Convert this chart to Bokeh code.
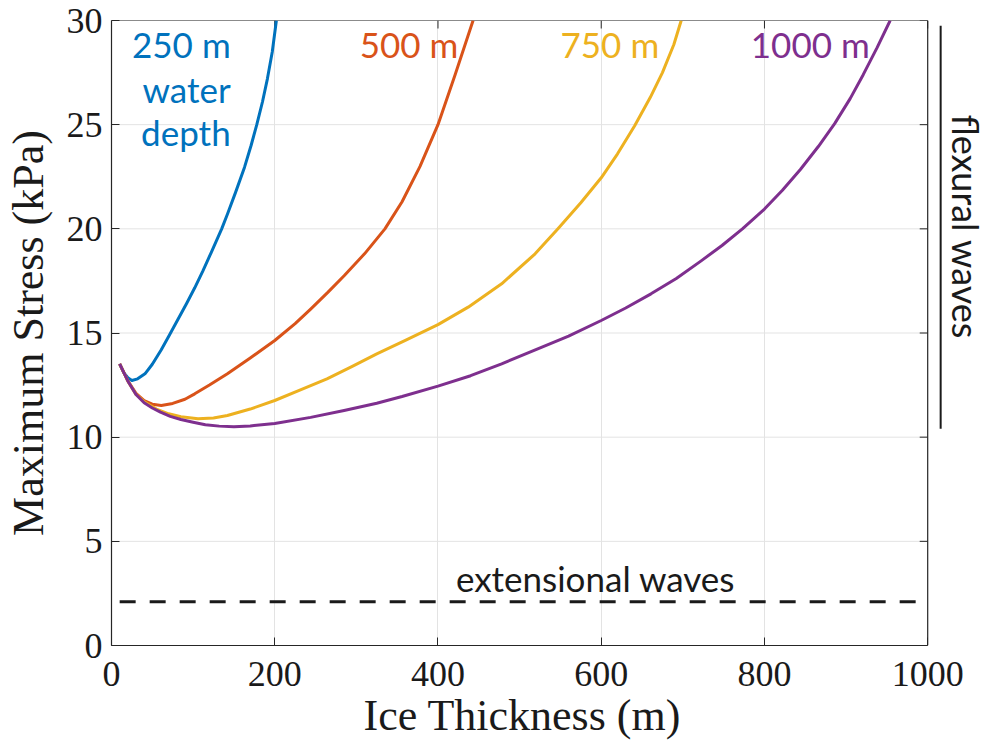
import math
from bokeh.plotting import figure
from bokeh.models import Range1d, FixedTicker, ColumnDataSource, Title
from bokeh.core.properties import value
from bokeh.embed import file_html
from bokeh.resources import INLINE

# ---------------- data ----------------
x_250 = [10, 15, 20, 25, 32, 41, 50, 61, 71, 81, 92, 102, 112, 122, 135, 142, 152, 163, 171, 178, 185, 191, 197, 202]
y_250 = [13.52, 13.1, 12.85, 12.72, 12.8, 13.04, 13.5, 14.2, 14.9, 15.62, 16.42, 17.17, 17.98, 18.85,
         20.0, 20.7, 21.75, 22.96, 24.0, 25.0, 26.1, 27.2, 28.5, 30.0]

x_500 = [10, 20, 30, 40, 50, 61, 75, 90, 102, 120, 142, 170, 200, 225, 244, 265, 285, 310, 335, 356,
         378, 400, 421, 443]
y_500 = [13.52, 12.7, 12.1, 11.75, 11.58, 11.52, 11.62, 11.82, 12.08, 12.5, 13.04, 13.8, 14.64, 15.45,
         16.15, 16.95, 17.75, 18.8, 20.0, 21.3, 23.0, 25.0, 27.4, 30.0]

x_750 = [10, 20, 30, 40, 55, 70, 85, 106, 125, 142, 170, 200, 230, 264, 295, 325, 360, 400, 437, 478,
         519, 547, 575, 600, 620, 641, 660, 675, 689, 698]
y_750 = [13.52, 12.7, 12.05, 11.7, 11.35, 11.12, 10.98, 10.88, 10.92, 11.04, 11.35, 11.76, 12.25, 12.8,
         13.4, 14.0, 14.65, 15.4, 16.24, 17.36, 18.8, 20.0, 21.25, 22.45, 23.6, 24.95, 26.3, 27.5, 28.85, 30.0]

x_1000 = [10, 20, 30, 40, 50, 60, 72, 85, 100, 115, 132, 150, 170, 200, 244, 285, 325, 356, 400, 440,
          478, 520, 560, 600, 630, 661, 692, 722, 748, 773, 800, 822, 844, 866, 886, 905, 921, 938, 954]
y_1000 = [13.52, 12.7, 12.05, 11.65, 11.4, 11.2, 11.0, 10.85, 10.72, 10.6, 10.53, 10.5, 10.54, 10.66,
          10.95, 11.28, 11.63, 11.95, 12.45, 12.95, 13.52, 14.2, 14.85, 15.6, 16.2, 16.88, 17.62, 18.45,
          19.2, 20.0, 20.95, 21.85, 22.85, 23.95, 25.05, 26.25, 27.4, 28.7, 30.0]

ext_x = [10, 1000]
ext_y = [2.1, 2.1]

depth_labels = ["250 m", "500 m", "750 m", "1000 m"]
label_x = [146, 425, 671, 929]
label_y = [28.85, 28.85, 28.85, 28.85]

x_ticks = [0, 200, 400, 600, 800, 1000]
y_ticks = [0, 5, 10, 15, 20, 25, 30]

colors = ["#0072BD", "#D95319", "#EDB120", "#7E2F8E"]
AX = "#262626"
GRID = "#e3e3e3"
SERIF = "Liberation Serif"
SANS = "Lato"

# ---------------- layout geometry ----------------
X0, X1, Y0, Y1 = 0, 1000, 0, 30
W, H = 985, 745
LEFT, TOP, BOTTOM = 108, 20, 100
BOX_W = 819                       # pixel width of the axes box (0..1000)
FRAME_W = W - LEFT                # frame runs to the right edge, room for the side note
X_END = X1 * FRAME_W / BOX_W
px_x = (X1 - X0) / BOX_W          # data units per pixel, x
px_y = (Y1 - Y0) / (H - TOP - BOTTOM)

p = figure(width=W, height=H, output_backend="svg", toolbar_location=None,
           x_range=Range1d(X0, X_END), y_range=Range1d(Y0, Y1),
           min_border_left=LEFT, min_border_right=0, min_border_top=TOP, min_border_bottom=BOTTOM)
p.outline_line_color = None

for ax in (p.xaxis[0], p.yaxis[0]):
    ax.axis_line_color = AX
    ax.axis_line_width = 1.2
    ax.major_tick_line_color = AX
    ax.major_tick_in = 8
    ax.major_tick_out = 0
    ax.minor_tick_line_color = None
    ax.major_label_text_font = SERIF
    ax.major_label_text_font_size = "36px"
    ax.major_label_text_color = "#1a1a1a"
    ax.axis_label_text_font = SERIF
    ax.axis_label_text_font_size = "44px"
    ax.axis_label_text_font_style = "normal"
    ax.axis_label_text_color = "#1a1a1a"

p.xaxis[0].ticker = FixedTicker(ticks=x_ticks)
p.xaxis[0].bounds = (X0, X1)
p.yaxis[0].ticker = FixedTicker(ticks=y_ticks)
p.yaxis[0].axis_label = "Maximum Stress (kPa)"
p.xaxis[0].major_label_standoff = 16
p.yaxis[0].major_label_standoff = 9
p.yaxis[0].axis_label_standoff = 11

# x-axis title placed under the centre of the axes box (the frame is wider on the right)
p.add_layout(Title(text="Ice Thickness (m)", align="left", offset=252, standoff=0,
                   text_font=SERIF, text_font_size="44px", text_font_style="normal",
                   text_color="#1a1a1a"), "below")

p.xgrid.ticker = FixedTicker(ticks=x_ticks)
p.xgrid.grid_line_color = GRID
p.ygrid.visible = False
# horizontal grid lines limited to the axes box
p.segment(x0=[X0] * len(y_ticks), x1=[X1] * len(y_ticks), y0=y_ticks, y1=y_ticks,
          line_color=GRID, line_width=1)

# top and right edges of the box, with inward ticks
p.segment(x0=[X0, X1], x1=[X1, X1], y0=[Y1, Y0], y1=[Y1, Y1], line_color=AX, line_width=1.2)
p.segment(x0=x_ticks, x1=x_ticks, y0=[Y1] * len(x_ticks), y1=[Y1 - 8 * px_y] * len(x_ticks),
          line_color=AX, line_width=1)
p.segment(x0=[X1] * len(y_ticks), x1=[X1 - 8 * px_x] * len(y_ticks), y0=y_ticks, y1=y_ticks,
          line_color=AX, line_width=1)

p.line(ext_x, ext_y, line_color="#1a1a1a", line_width=3, line_dash="16 14")

series = [(x_250, y_250), (x_500, y_500), (x_750, y_750), (x_1000, y_1000)]
for (xs, ys), c in zip(series, colors):
    p.line(xs, ys, line_color=c, line_width=3, line_join="round")

src = ColumnDataSource(dict(x=label_x, y=label_y, t=depth_labels, c=colors))
p.text(x="x", y="y", text="t", text_color="c", source=src, text_align="right",
       text_baseline="middle", text_font=value(SANS), text_font_size="35px")

p.text(x=[146, 146], y=[26.7, 24.66], text=["water", "depth"], text_color=colors[0],
       text_align="right", text_baseline="middle", text_font=value(SANS), text_font_size="35px")

p.text(x=[593], y=[3.22], text=["extensional waves"], text_color="#1a1a1a",
       text_align="center", text_baseline="middle", text_font=value(SANS), text_font_size="35px")

# ---------------- side note: flexural waves ----------------
line_x = X1 + 13 * px_x
note_x = X1 + 38 * px_x
p.segment(x0=[line_x], y0=[10.4], x1=[line_x], y1=[29.75], line_color="#1a1a1a", line_width=2)
p.text(x=[note_x], y=[20.1], text=["flexural waves"], angle=-math.pi / 2, text_color="#1a1a1a",
       text_align="center", text_baseline="middle", text_font=value(SANS), text_font_size="36px")

open("out.html", "w").write(file_html(p, INLINE))
